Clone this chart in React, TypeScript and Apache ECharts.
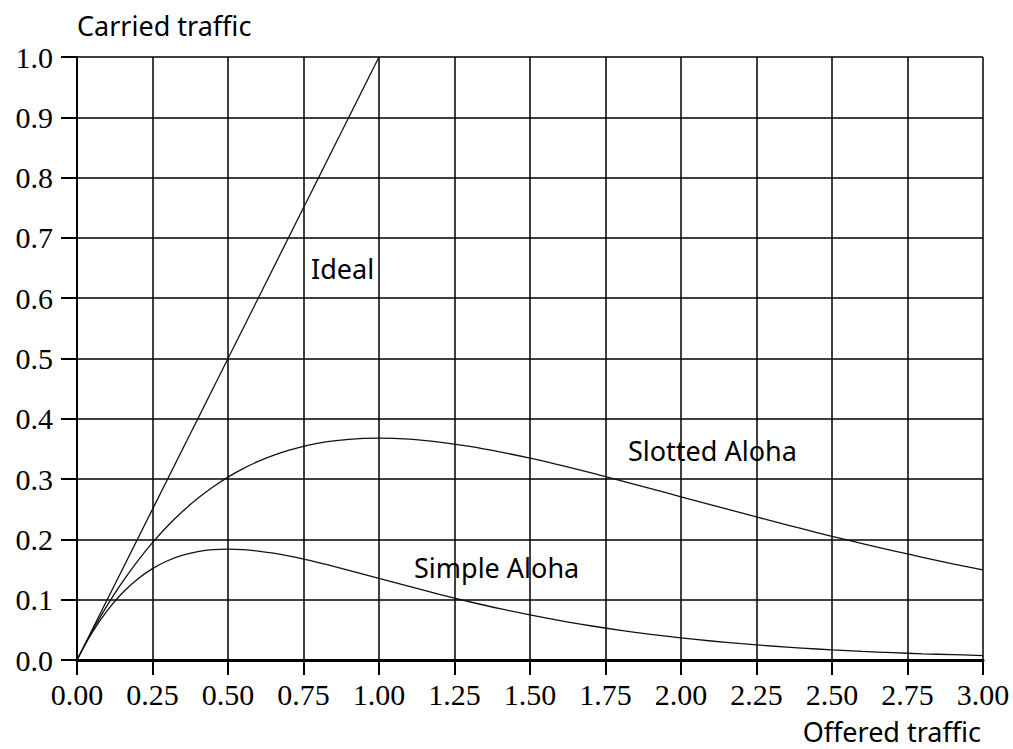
import React, { useEffect, useRef } from "react";
import * as echarts from "echarts";

const offered = [0, 0.05, 0.1, 0.15, 0.2, 0.25, 0.3, 0.35, 0.4, 0.45, 0.5, 0.55, 0.6, 0.65, 0.7, 0.75, 0.8, 0.85, 0.9, 0.95, 1.0, 1.1, 1.2, 1.3, 1.4, 1.5, 1.6, 1.7, 1.8, 1.9, 2.0, 2.1, 2.2, 2.3, 2.4, 2.5, 2.6, 2.7, 2.8, 2.9, 3.0];
const slottedAloha = [0, 0.0476, 0.0905, 0.1291, 0.1637, 0.1947, 0.2222, 0.2466, 0.2681, 0.2869, 0.3033, 0.3173, 0.3293, 0.3393, 0.3476, 0.3543, 0.3595, 0.3633, 0.3659, 0.3674, 0.3679, 0.3662, 0.3614, 0.3543, 0.3452, 0.3347, 0.323, 0.3106, 0.2975, 0.2842, 0.2707, 0.2572, 0.2438, 0.2306, 0.2177, 0.2052, 0.1931, 0.1815, 0.1703, 0.1595, 0.1494];
const simpleAloha = [0, 0.0452, 0.0819, 0.1111, 0.1341, 0.1516, 0.1646, 0.1738, 0.1797, 0.183, 0.1839, 0.1831, 0.1807, 0.1771, 0.1726, 0.1673, 0.1615, 0.1553, 0.1488, 0.1421, 0.1353, 0.1219, 0.1089, 0.0966, 0.0851, 0.0747, 0.0652, 0.0568, 0.0492, 0.0425, 0.0366, 0.0315, 0.0271, 0.0232, 0.0198, 0.0168, 0.0143, 0.0122, 0.0103, 0.0088, 0.0074];
const idealX = [0, 1];
const idealY = [0, 1];

const SERIF = "'Liberation Serif', serif";
const SANS = "'Noto Sans', sans-serif";

export default function App() {
  const ref = useRef<HTMLDivElement>(null);
  useEffect(() => {
    const chart = echarts.init(ref.current!, null, { renderer: "svg" });
    const pairs = (xs: number[], ys: number[]) => xs.map((x, i) => [x, ys[i]]);
    const lineStyle = { color: "#111", width: 1.3 };
    const font = `27px ${SANS}`;
    chart.setOption({
      animation: false,
      backgroundColor: "#fff",
      grid: { left: 77, top: 57, width: 906, height: 603, containLabel: false },
      xAxis: {
        type: "value",
        min: 0,
        max: 3,
        interval: 0.25,
        axisLine: { show: true, onZero: false, lineStyle: { color: "#000", width: 3 } },
        axisTick: { show: true, inside: false, length: 15, lineStyle: { color: "#000", width: 2 } },
        axisLabel: {
          color: "#000",
          fontFamily: SERIF,
          fontSize: 30,
          margin: 19,
          formatter: (v: number) => v.toFixed(2),
        },
        splitLine: { show: true, lineStyle: { color: "#000", width: 1.5 } },
      },
      yAxis: {
        type: "value",
        min: 0,
        max: 1,
        interval: 0.1,
        axisLine: { show: true, onZero: false, lineStyle: { color: "#000", width: 2 } },
        axisTick: { show: true, inside: false, length: 16, lineStyle: { color: "#000", width: 2 } },
        axisLabel: {
          color: "#000",
          fontFamily: SERIF,
          fontSize: 30,
          margin: 24,
          formatter: (v: number) => v.toFixed(1),
        },
        splitLine: { show: true, lineStyle: { color: "#000", width: 1.5 } },
      },
      series: [
        { type: "line", name: "Ideal", data: pairs(idealX, idealY), showSymbol: false, lineStyle },
        { type: "line", name: "Slotted Aloha", data: pairs(offered, slottedAloha), smooth: 0.4, showSymbol: false, lineStyle },
        { type: "line", name: "Simple Aloha", data: pairs(offered, simpleAloha), smooth: 0.4, showSymbol: false, lineStyle },
      ],
      graphic: [
        { type: "text", x: 77, y: 25, style: { text: "Carried traffic", font, fill: "#000", align: "left", verticalAlign: "middle" } },
        { type: "text", x: 981, y: 731, style: { text: "Offered traffic", font, fill: "#000", align: "right", verticalAlign: "middle" } },
        { type: "text", x: 311, y: 268, style: { text: "Ideal", font, fill: "#000", align: "left", verticalAlign: "middle" } },
        { type: "text", x: 628, y: 450, style: { text: "Slotted Aloha", font, fill: "#000", align: "left", verticalAlign: "middle" } },
        { type: "text", x: 414, y: 567, style: { text: "Simple Aloha", font, fill: "#000", align: "left", verticalAlign: "middle" } },
      ],
    });
    return () => chart.dispose();
  }, []);
  return <div ref={ref} style={{ width: 1013, height: 749, position: "absolute", left: 0, top: 0 }} />;
}
